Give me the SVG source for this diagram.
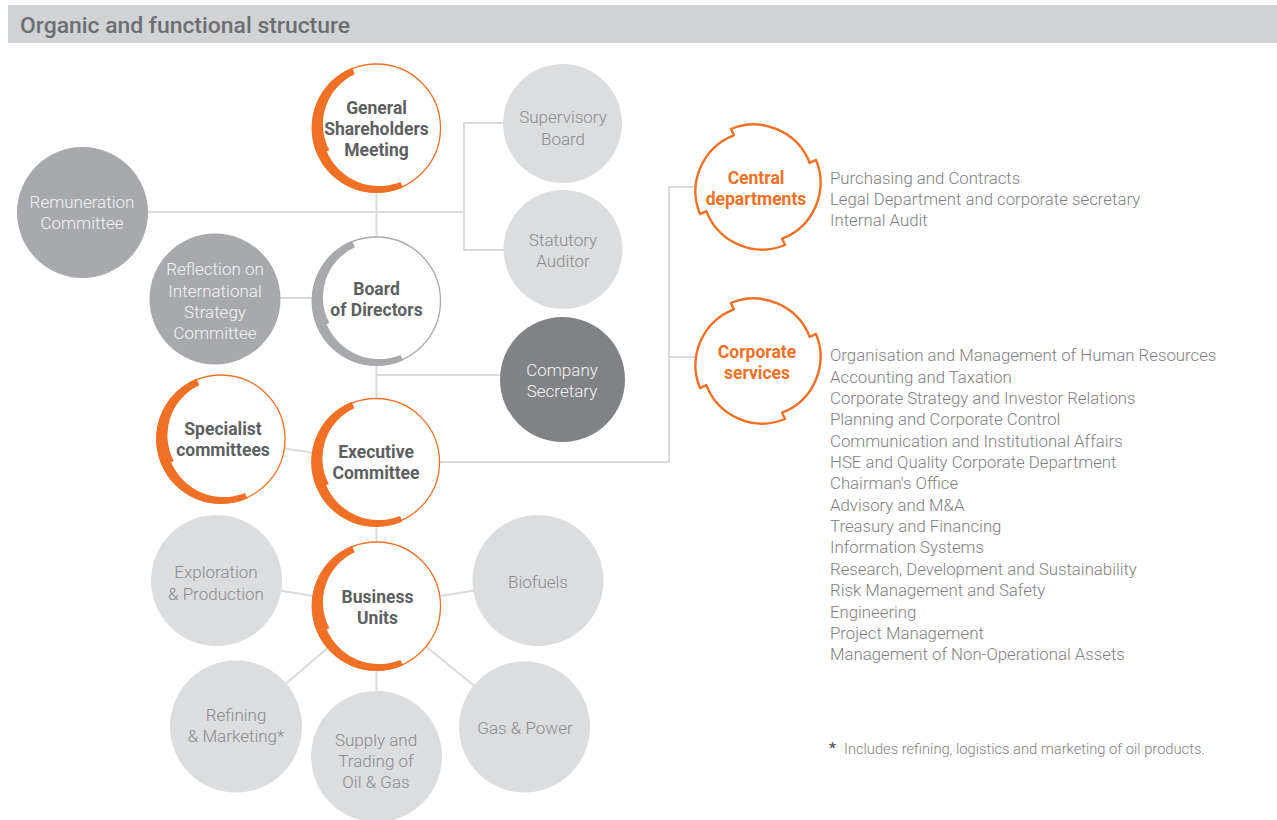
<svg xmlns="http://www.w3.org/2000/svg" xmlns:xlink="http://www.w3.org/1999/xlink" width="1277" height="820" viewBox="0 0 1277 820">
  <style>
    text { font-family: Roboto, "Liberation Sans", sans-serif; text-anchor: middle; }
    .title { font-size: 22.9px; font-weight: 500; fill: #6d6e71; text-anchor: start; }
    .conn { fill: none; stroke: #dadbdc; stroke-width: 2; }
    .ring-o { fill: #ffffff; stroke: #f07125; stroke-width: 1.3; }
    .ring-g { fill: #ffffff; stroke: #a7a9ac; stroke-width: 1.3; }
    .band-o { fill: #f07125; }
    .band-g { fill: #a7a9ac; }
    .lbl-main { font-size: 17.5px; font-weight: 700; fill: #5e5f61; }
    .lbl-light { font-size: 17px; font-weight: 300; fill: #8a8b8d; }
    .lbl-white { font-size: 17px; font-weight: 300; fill: #f4f4f4; }
    .c-light { fill: #dcddde; }
    .c-mid { fill: #a7a9ac; }
    .c-dark { fill: #808285; }
    .ratchet { fill: #ffffff; stroke: #f07125; stroke-width: 2.4; stroke-linejoin: round; }
    .lbl-orange { font-size: 17.5px; font-weight: 700; fill: #f07125; }
    .list { font-size: 16.8px; font-weight: 300; fill: #7f8083; text-anchor: start; }
    .note { font-size: 14.7px; font-weight: 300; fill: #7f8083; text-anchor: start; }
    .star { font-size: 15px; font-weight: 700; fill: #58595b; text-anchor: start; }
  </style>
  <defs>
    <!-- thick crescent band on the left of a ring, stepped at 155 degrees -->
    <path id="band" d="M -24.35 -60.27 A 65 65 0 1 0 26.44 59.38 L 24.0 53.9 A 57 57 0 0 1 -49.85 23.24 L -47.13 21.98 A 55 55 0 0 1 -21.73 -53.78 Z"/>
    <!-- notched ring used for the department boxes -->
    <path id="ratchet" d="M -27.05 -58.00 A 60 60 0 0 1 51.66 -24.09 L 58.00 -27.05 A 60 60 0 0 1 24.09 51.66 L 27.05 58.00 A 60 60 0 0 1 -51.66 24.09 L -58.00 27.05 A 60 60 0 0 1 -24.09 -51.66 Z"/>
  </defs>

  <!-- header bar -->
  <rect x="8" y="5" width="1269" height="38" fill="#d1d3d4"/>
  <text class="title" x="20" y="33">Organic and functional structure</text>

  <!-- connectors -->
  <g id="connectors">
    <path class="conn" d="M 376.5 128 V 756"/>
    <path class="conn" d="M 82 212 H 464"/>
    <path class="conn" d="M 563 123 H 464 V 250 H 563"/>
    <path class="conn" d="M 215 298 H 376"/>
    <path class="conn" d="M 376 375 H 563"/>
    <path class="conn" d="M 221 439 L 376 462"/>
    <path class="conn" d="M 376 462 H 669 V 187 H 758"/>
    <path class="conn" d="M 669 357 H 758"/>
    <path class="conn" d="M 216.5 580.5 L 376.5 606 L 538 580.5"/>
    <path class="conn" d="M 236 726.5 L 376.5 606 L 524.5 727"/>
  </g>

  <!-- governing bodies -->
  <g id="remuneration">
    <circle class="c-mid" cx="82.5" cy="212.5" r="65.5"/>
    <text class="lbl-white" x="82" y="208">Remuneration</text>
    <text class="lbl-white" x="82" y="229">Committee</text>
  </g>
  <g id="reflection">
    <circle class="c-mid" cx="215" cy="299" r="65.5"/>
    <text class="lbl-white" x="215" y="275">Reflection on</text>
    <text class="lbl-white" x="215" y="297">International</text>
    <text class="lbl-white" x="215" y="318">Strategy</text>
    <text class="lbl-white" x="215" y="339">Committee</text>
  </g>
  <g id="supervisory-board">
    <circle class="c-light" cx="562.5" cy="123.5" r="59.5"/>
    <text class="lbl-light" x="563" y="123">Supervisory</text>
    <text class="lbl-light" x="563" y="145">Board</text>
  </g>
  <g id="statutory-auditor">
    <circle class="c-light" cx="563" cy="249.5" r="59.5"/>
    <text class="lbl-light" x="563" y="246">Statutory</text>
    <text class="lbl-light" x="563" y="267">Auditor</text>
  </g>
  <g id="company-secretary">
    <circle class="c-dark" cx="562.5" cy="379.5" r="62.5"/>
    <text class="lbl-white" x="562" y="376">Company</text>
    <text class="lbl-white" x="562" y="397">Secretary</text>
  </g>

  <g id="general-shareholders-meeting" transform="translate(376.5 128)">
    <circle class="ring-o" r="64"/>
    <use xlink:href="#band" class="band-o"/>
    <text class="lbl-main" x="0" y="-14">General</text>
    <text class="lbl-main" x="0" y="7">Shareholders</text>
    <text class="lbl-main" x="0" y="28">Meeting</text>
  </g>
  <g id="board-of-directors" transform="translate(376.5 301)">
    <circle class="ring-g" r="64"/>
    <use xlink:href="#band" class="band-g"/>
    <text class="lbl-main" x="0" y="-6">Board</text>
    <text class="lbl-main" x="0" y="15">of Directors</text>
  </g>
  <g id="specialist-committees" transform="translate(221 439)">
    <circle class="ring-o" r="64"/>
    <use xlink:href="#band" class="band-o"/>
    <text class="lbl-main" x="2" y="-4">Specialist</text>
    <text class="lbl-main" x="2" y="17">committees</text>
  </g>
  <g id="executive-committee" transform="translate(376 462)">
    <circle class="ring-o" r="63.5"/>
    <use xlink:href="#band" class="band-o"/>
    <text class="lbl-main" x="0" y="-4">Executive</text>
    <text class="lbl-main" x="0" y="17">Committee</text>
  </g>

  <!-- corporate functions -->
  <g id="central-departments" transform="translate(758 187)">
    <use xlink:href="#ratchet" class="ratchet"/>
    <text class="lbl-orange" x="-2" y="-3">Central</text>
    <text class="lbl-orange" x="-2" y="18">departments</text>
  </g>
  <g id="corporate-services" transform="translate(758 361)">
    <use xlink:href="#ratchet" class="ratchet"/>
    <text class="lbl-orange" x="-1" y="-3">Corporate</text>
    <text class="lbl-orange" x="-1" y="18">services</text>
  </g>

  <g id="central-departments-list">
    <text class="list" x="830" y="184">Purchasing and Contracts</text>
    <text class="list" x="830" y="205">Legal Department and corporate secretary</text>
    <text class="list" x="830" y="226">Internal Audit</text>
  </g>
  <g id="corporate-services-list">
    <text class="list" x="830" y="361">Organisation and Management of Human Resources</text>
    <text class="list" x="830" y="383">Accounting and Taxation</text>
    <text class="list" x="830" y="404">Corporate Strategy and Investor Relations</text>
    <text class="list" x="830" y="425">Planning and Corporate Control</text>
    <text class="list" x="830" y="447">Communication and Institutional Affairs</text>
    <text class="list" x="830" y="468">HSE and Quality Corporate Department</text>
    <text class="list" x="830" y="489">Chairman's Office</text>
    <text class="list" x="830" y="511">Advisory and M&amp;A</text>
    <text class="list" x="830" y="532">Treasury and Financing</text>
    <text class="list" x="830" y="553">Information Systems</text>
    <text class="list" x="830" y="575">Research, Development and Sustainability</text>
    <text class="list" x="830" y="596">Risk Management and Safety</text>
    <text class="list" x="830" y="618">Engineering</text>
    <text class="list" x="830" y="639">Project Management</text>
    <text class="list" x="830" y="660">Management of Non-Operational Assets</text>
  </g>

  <!-- business units -->
  <g id="exploration-production">
    <circle class="c-light" cx="216.5" cy="580.5" r="65.5"/>
    <text class="lbl-light" x="216" y="578">Exploration</text>
    <text class="lbl-light" x="216" y="600">&amp; Production</text>
  </g>
  <g id="biofuels">
    <circle class="c-light" cx="538" cy="580.5" r="65.5"/>
    <text class="lbl-light" x="538" y="588">Biofuels</text>
  </g>
  <g id="refining-marketing">
    <circle class="c-light" cx="236" cy="726.5" r="66"/>
    <text class="lbl-light" x="236" y="721">Refining</text>
    <text class="lbl-light" x="236" y="742">&amp; Marketing*</text>
  </g>
  <g id="supply-trading">
    <circle class="c-light" cx="376.5" cy="756.5" r="65.5"/>
    <text class="lbl-light" x="376" y="746">Supply and</text>
    <text class="lbl-light" x="376" y="767">Trading of</text>
    <text class="lbl-light" x="376" y="788">Oil &amp; Gas</text>
  </g>
  <g id="gas-power">
    <circle class="c-light" cx="524.5" cy="727" r="65.5"/>
    <text class="lbl-light" x="525" y="734">Gas &amp; Power</text>
  </g>
  <g id="business-units" transform="translate(376.5 606)">
    <circle class="ring-o" r="64"/>
    <use xlink:href="#band" class="band-o"/>
    <text class="lbl-main" x="1" y="-3">Business</text>
    <text class="lbl-main" x="1" y="18">Units</text>
  </g>

  <!-- footnote -->
  <g id="footnote">
    <text class="star" x="829" y="753">*</text>
    <text class="note" x="844" y="754">Includes refining, logistics and marketing of oil products.</text>
  </g>
</svg>
